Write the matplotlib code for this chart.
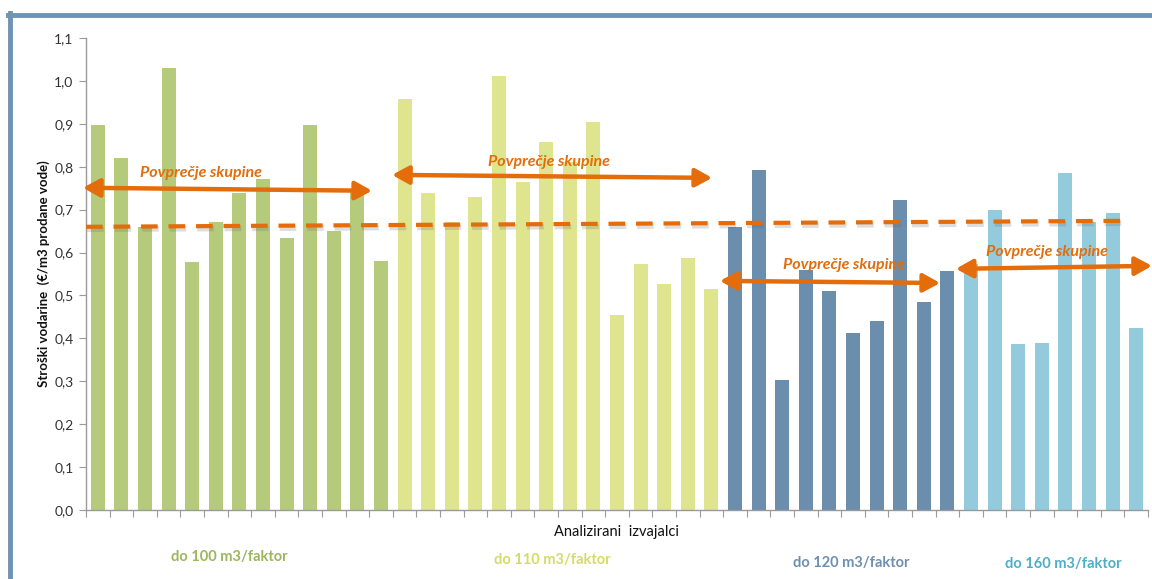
import matplotlib
matplotlib.use("Agg")
import matplotlib.pyplot as plt
import matplotlib.patheffects as pe
from matplotlib.lines import Line2D
from matplotlib.patches import FancyArrowPatch
import numpy as np

plt.rcParams['font.family'] = ['Lato', 'DejaVu Sans']

# Water tariff cost per provider (EUR per m3 of sold water), by group
grp_100 = [0.897, 0.820, 0.660, 1.030, 0.578, 0.671, 0.739, 0.772, 0.634, 0.897, 0.650, 0.741, 0.580]
grp_110 = [0.958, 0.739, 0.671, 0.730, 1.012, 0.765, 0.858, 0.810, 0.904, 0.455, 0.573, 0.527, 0.587, 0.515]
grp_120 = [0.660, 0.793, 0.303, 0.559, 0.511, 0.413, 0.441, 0.723, 0.485, 0.557]
grp_160 = [0.573, 0.699, 0.387, 0.389, 0.786, 0.671, 0.692, 0.424]

group_names = ["do 100 m3/faktor", "do 110 m3/faktor", "do 120 m3/faktor", "do 160 m3/faktor"]
bar_colors = ["#b5cb7b", "#dfe48f", "#6b8ead", "#94cbdc"]
label_colors = ["#9bb65c", "#d3dc66", "#6f8fae", "#4eaec8"]

# overall average trend (start, end) and group average arrows
overall_avg = [0.660, 0.674]
arrow_y = [(0.751, 0.744), (0.781, 0.774), (0.534, 0.529), (0.562, 0.569)]
arrow_label = "Povprečje skupine"

yticks = [0.0, 0.1, 0.2, 0.3, 0.4, 0.5, 0.6, 0.7, 0.8, 0.9, 1.0, 1.1]
ytick_labels = ["0,0", "0,1", "0,2", "0,3", "0,4", "0,5", "0,6", "0,7", "0,8", "0,9", "1,0", "1,1"]

W, H = 1152, 579
fig = plt.figure(figsize=(W / 100, H / 100), dpi=100)
ax = fig.add_axes([86 / W, 1 - 510 / H, (1148 - 86) / W, (510 - 38) / H])

groups = [grp_100, grp_110, grp_120, grp_160]
values = np.concatenate(groups)
colors = np.concatenate([[c] * len(g) for c, g in zip(bar_colors, groups)])
x = np.arange(len(values))
ax.bar(x, values, width=0.6, color=colors, zorder=2)

n = len(values)
ax.set_xlim(-0.5, n - 0.5)
ax.set_ylim(0, 1.1)
ax.set_yticks(yticks)
ax.set_yticklabels(ytick_labels, fontsize=10, color="#333333")
ax.set_xticks(np.arange(-0.5, n, 1.0))
ax.set_xticklabels([])
ax.tick_params(axis='x', length=5, color="#9a9a9a", direction='out')
ax.tick_params(axis='y', length=5, color="#9a9a9a", direction='out', pad=4)
for s in ["top", "right"]:
    ax.spines[s].set_visible(False)
for s in ["left", "bottom"]:
    ax.spines[s].set_color("#9a9a9a")
    ax.spines[s].set_linewidth(1.0)

ax.set_ylabel("Stroški vodarine  (€/m3 prodane vode)", fontsize=9.5, fontweight="bold",
              color="#111111")
ax.yaxis.set_label_coords(-36 / (1148 - 86), 0.5)
ax.set_xlabel("Analizirani  izvajalci", fontsize=10.5, color="#111111", labelpad=2)

orange = "#e46c0a"

# dashed overall average with a soft shadow
ax.plot([-0.5, 43.6], overall_avg, color=orange, lw=3, dashes=(4, 2.6), zorder=4,
        path_effects=[pe.SimpleLineShadow(offset=(0.8, -1.8), shadow_color="#666666", alpha=0.22,
                                          linewidth=4),
                      pe.Normal()])

# group average arrows
arrow_x = [(-0.63, 11.62), (12.47, 26.03), (26.36, 35.69), (36.36, 44.67)]
text_pos = [(4.37, 0.786), (19.1, 0.811), (31.6, 0.571), (40.2, 0.601)]
for (x0, x1), (y0, y1), (tx, ty) in zip(arrow_x, arrow_y, text_pos):
    arr = FancyArrowPatch((x0, y0), (x1, y1), arrowstyle="<|-|>,head_length=10,head_width=5.5",
                          color=orange, lw=3.2, mutation_scale=1, zorder=5, clip_on=False,
                          shrinkA=0, shrinkB=0)
    ax.add_patch(arr)
    ax.text(tx, ty, arrow_label, color=orange, fontsize=11.5, fontweight="bold",
            fontstyle="italic", ha="center", va="center", zorder=6, clip_on=False)

# group names under the axis
name_px = [229, 552, 851, 1063]
name_py = [557, 560, 563, 564]
for name, c, px, py in zip(group_names, label_colors, name_px, name_py):
    fig.text(px / W, 1 - py / H, name, color=c, fontsize=10.5, fontweight="bold",
             ha="center", va="center")

# chart frame (top and left edges)
frame_c = "#6f93b1"
fig.add_artist(Line2D([8 / W, 1.0], [1 - 14.5 / H, 1 - 14.5 / H], color=frame_c, lw=3.5,
                      transform=fig.transFigure))
fig.add_artist(Line2D([10 / W, 10 / W], [0, 1 - 13 / H], color=frame_c, lw=3.5,
                      transform=fig.transFigure))

fig.savefig("out.png", dpi=100)
